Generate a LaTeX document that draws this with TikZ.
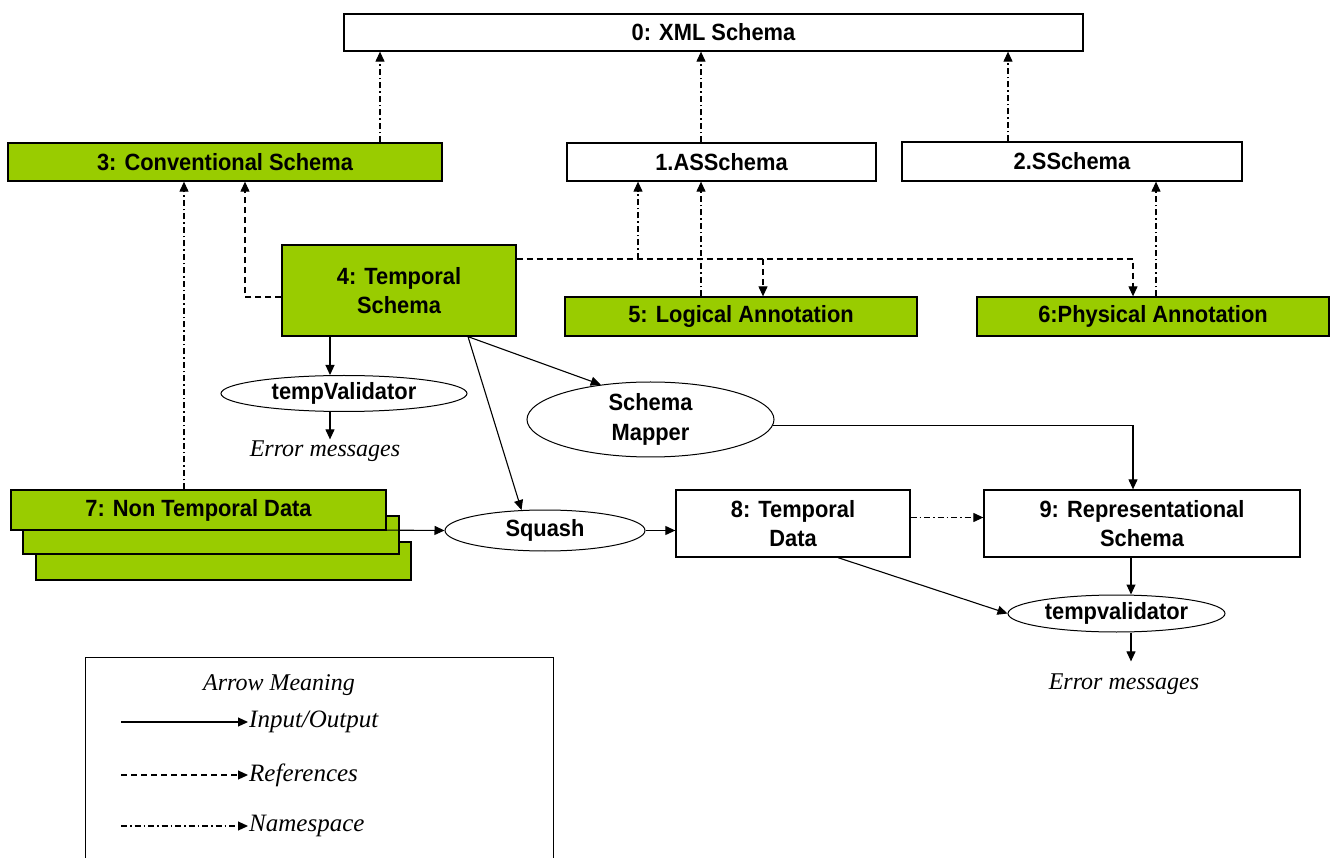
\documentclass[tikz,border=0pt]{standalone}
\usepackage{fontspec}
\setmainfont{Liberation Sans}
\newfontfamily\lblfont{Liberation Sans}[FakeStretch=0.93]
\newfontfamily\ital{Liberation Serif}
\usetikzlibrary{arrows.meta,shapes.geometric}
\definecolor{lgreen}{RGB}{153,204,0}
\begin{document}
\begin{tikzpicture}[x=1pt,y=-1pt,
 lbl/.style={font=\lblfont\bfseries\fontsize{23.5}{29.5}\selectfont, align=center},
 box/.style={draw, line width=1.3pt, rectangle, inner sep=0pt, lbl},
 gbox/.style={box, fill=lgreen},
 oval/.style={draw, ellipse, line width=1pt, inner sep=0pt, lbl, fill=white},
 itxt/.style={font=\ital\itshape\fontsize{24}{27}\selectfont, inner sep=1pt},
 ltxt/.style={font=\ital\itshape\fontsize{25}{28}\selectfont, inner sep=1pt, anchor=west},
 tip/.style={-{Triangle[length=10pt,width=9pt]}},
 io/.style={tip, line width=1.1pt},
 refl/.style={tip, line width=1.1pt, dash pattern=on 6pt off 4pt},
 nsl/.style={tip, line width=1.1pt, dash pattern=on 6pt off 3pt on 1.5pt off 3pt},
]
\useasboundingbox (0,0) rectangle (1334,858);

% x positions of vertical connectors
\coordinate (c184) at (184,0);
\coordinate (c245) at (245,0);
\coordinate (c330) at (330,0);
\coordinate (c380) at (380,0);
\coordinate (c638) at (638,0);
\coordinate (c701) at (701,0);
\coordinate (c763) at (763,0);
\coordinate (c1008) at (1008,0);
\coordinate (c1131) at (1131,0);
\coordinate (c1133) at (1133,0);
\coordinate (c1156) at (1156,0);

% boxes
\node[box, minimum width=739pt, minimum height=37pt] (xml) at (713.5,32.5) {0: XML Schema};
\node[gbox, minimum width=434pt, minimum height=38pt] (conv) at (225,162) {3: Conventional Schema};
\node[box, minimum width=309pt, minimum height=38pt] (as) at (721.5,162) {1.ASSchema};
\node[box, minimum width=340pt, minimum height=39pt] (ss) at (1072,161.5) {2.SSchema};
\node[gbox, minimum width=234pt, minimum height=91pt] (temp) at (399,290.5) {4: Temporal\\Schema};
\node[gbox, minimum width=352pt, minimum height=39pt] (logic) at (741,316.5) {5: Logical Annotation};
\node[gbox, minimum width=352pt, minimum height=39pt] (phys) at (1153,316.5) {6:Physical Annotation};
\node[oval, minimum width=246pt, minimum height=36pt] (tval) at (344,393.5) {tempValidator};
\node[itxt] (err1) at (325,451) {Error messages};
\node[oval, minimum width=247pt, minimum height=75pt] (mapper) at (650.5,419.5) {Schema\\Mapper};
\node[gbox, minimum width=375pt, minimum height=38pt] (nt3) at (223.5,561) {};
\node[gbox, minimum width=376pt, minimum height=38pt] (nt2) at (211,535) {};
\node[gbox, minimum width=375pt, minimum height=40pt] (nt1) at (198.5,510) {7: Non Temporal Data};
\node[oval, minimum width=200pt, minimum height=41pt] (squash) at (545,530.5) {Squash};
\node[box, minimum width=234pt, minimum height=67pt] (tdata) at (793,523.5) {8: Temporal\\Data};
\node[box, minimum width=316pt, minimum height=67pt] (rep) at (1142,523.5) {9: Representational\\Schema};
\node[oval, minimum width=217pt, minimum height=37pt] (tval2) at (1116.5,613.5) {tempvalidator};
\node[itxt] (err2) at (1124,684) {Error messages};

% namespace links to XML schema
\draw[nsl] (conv.north -| c380) -- (xml.south -| c380);
\draw[nsl] (as.north -| c701) -- (xml.south -| c701);
\draw[nsl] (ss.north -| c1008) -- (xml.south -| c1008);
\draw[nsl] (nt1.north -| c184) -- (conv.south -| c184);
\draw[nsl] (logic.north -| c701) -- (as.south -| c701);
\draw[nsl] (phys.north -| c1156) -- (ss.south -| c1156);

% references from temporal schema
\coordinate (tr) at ([yshift=31.5pt]temp.east);
\draw[refl] ([yshift=-6.5pt]temp.west) -| (conv.south -| c245);
\draw[refl] (tr) -| (phys.north -| c1133);
\draw[refl] (tr -| c763) -- (logic.north -| c763);
\draw[nsl] (tr -| c638) -- (as.south -| c638);

% input/output
\coordinate (t4) at ([xshift=69pt]temp.south);
\draw[io] (temp.south -| c330) -- (tval.north -| c330);
\draw[io] (tval.south -| c330) -- (err1.north -| c330);
\draw[io] (t4) -- (mapper.145);
\draw[io] (t4) -- (squash.139);
\draw[io] (mapper.-3) -| (rep.north -| c1133);
\coordinate (s7) at (368,530);
\draw[io] (s7) -- (squash.west);
\draw[io] (squash.east) -- (squash.east -| tdata.west);
\coordinate (te) at ([yshift=6pt]tdata.east);
\draw[nsl] (te) -- (te -| rep.west);
\draw[io] (rep.south -| c1131) -- (tval2.north -| c1131);
\draw[io] ([xshift=45pt]tdata.south) -- (tval2.west);
\coordinate (e2top) at ([yshift=11pt]err2.north);
\draw[io] (tval2.south -| c1131) -- (e2top -| c1131);

% legend
\node[draw, line width=1pt, minimum width=468pt, minimum height=230pt, anchor=north west, inner sep=0pt] (legend) at (85,657) {};
\node[itxt] (lt) at (279,685) {Arrow Meaning};
\node[ltxt] (l1) at (248,722) {Input/Output};
\node[ltxt] (l2) at (248,775) {References};
\node[ltxt] (l3) at (248,826) {Namespace};
\coordinate (l1s) at (121,722);
\coordinate (l2s) at (121,775);
\coordinate (l3s) at (121,826);
\draw[io] (l1s) -- (l1.west);
\draw[refl] (l2s) -- (l2.west);
\draw[nsl] (l3s) -- (l3.west);
\end{tikzpicture}
\end{document}
